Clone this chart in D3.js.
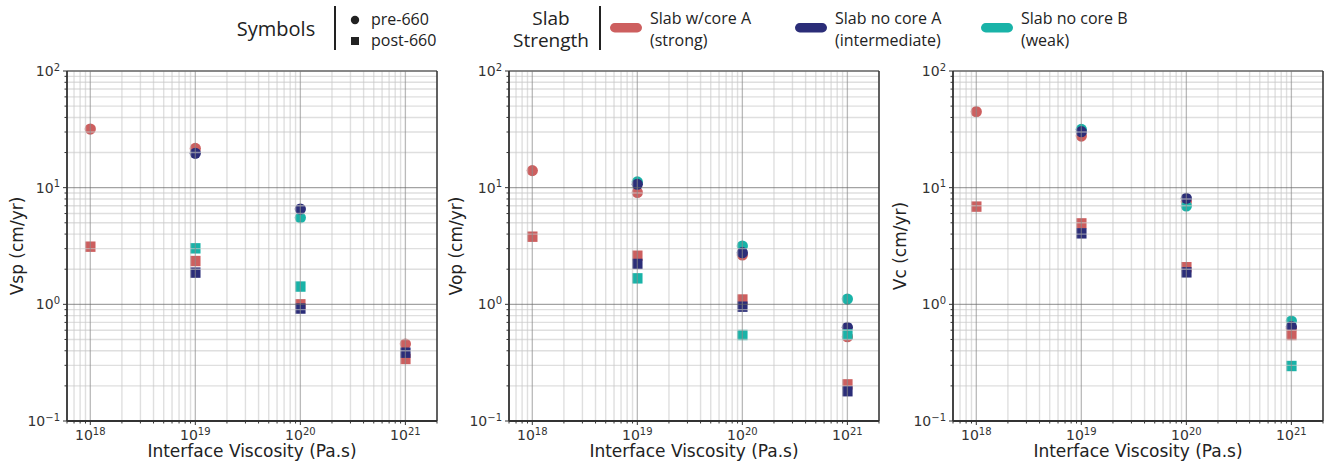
<!DOCTYPE html>
<html>
<head>
<meta charset="utf-8">
<script src="https://cdn.jsdelivr.net/npm/d3@7"></script>
<style>
  body { margin: 0; background: #fff; }
  svg { display: block; }
</style>
</head>
<body>
<svg id="chart" width="1330" height="462"></svg>
<script>
// viscosidad de interfaz (Pa.s) de cada corrida
const viscosity = [1e18, 1e19, 1e20, 1e21];

// filas: w/core A (strong), no core A (intermediate), no core B (weak); null = no visible
const vspPre  = [[31.8, 21.7, null, 0.457], [null, 19.7, 6.56, null], [null, null, 5.53, null]];
const vspPost = [[3.12, 2.35, 1.00, 0.34], [null, 1.87, 0.92, 0.385], [null, 3.02, 1.42, null]];
const vopPre  = [[14.0, 9.1, 2.65, 0.528], [null, 10.7, 2.77, 0.635], [null, 11.2, 3.16, 1.11]];
const vopPost = [[3.80, 2.61, 1.10, 0.206], [null, 2.22, 0.955, 0.18], [null, 1.67, 0.546, 0.553]];
const vcPre   = [[44.8, 27.7, 7.58, 0.62], [null, 30.2, 8.1, 0.644], [null, 31.6, 6.97, 0.72]];
const vcPost  = [[6.88, 4.94, 2.08, 0.546], [null, 4.06, 1.88, null], [null, null, null, 0.296]];

const modelNames = ['Slab w/core A', 'Slab no core A', 'Slab no core B'];
const modelSub = ['(strong)', '(intermediate)', '(weak)'];
const modelColors = ['#cd5f5f', '#2b2d78', '#19b3a8'];
const yLabels = ['Vsp (cm/yr)', 'Vop (cm/yr)', 'Vc (cm/yr)'];
const xTickExp = [18, 19, 20, 21];
const yTickExp = [-1, 0, 1, 2];

const panels = [
  { label: yLabels[0], pre: vspPre, post: vspPost },
  { label: yLabels[1], pre: vopPre, post: vopPost },
  { label: yLabels[2], pre: vcPre, post: vcPost },
];

const svg = d3.select('#chart');
const TICK_FONT = 'DejaVu Sans, sans-serif';
const LEG_FONT = '"Open Sans", Lato, sans-serif';
const PW = 370, PH = 350, TOP = 71;
const lefts = [67, 509, 953];

function minorVals(lo, hi) {
  const out = [];
  for (let e = Math.floor(Math.log10(lo)); e <= Math.ceil(Math.log10(hi)); e++) {
    for (let k = 2; k <= 9; k++) { const v = k * Math.pow(10, e); if (v >= lo && v <= hi) out.push(v); }
  }
  return out;
}

function powLabel(sel, exp) {
  sel.text('10');
  sel.append('tspan').attr('dy', '-0.55em').style('font-size', '10px')
    .text(exp < 0 ? '\u2212' + Math.abs(exp) : exp);
}

panels.forEach((p, pi) => {
  const g = svg.append('g').attr('transform', `translate(${lefts[pi]},${TOP})`);
  const x = d3.scaleLog().domain([6e17, 2e21]).range([0, PW]);
  const y = d3.scaleLog().domain([0.1, 100]).range([PH, 0]);

  // marcadores: primero círculos (pre-660), luego cuadrados (post-660)
  const circOrder = [0, 2, 1], sqOrder = [2, 0, 1];
  circOrder.forEach(m => {
    p.pre[m].forEach((v, i) => {
      if (v == null) return;
      g.append('circle').attr('cx', x(viscosity[i])).attr('cy', y(v)).attr('r', 5.6)
        .attr('fill', modelColors[m]);
    });
  });
  sqOrder.forEach(m => {
    p.post[m].forEach((v, i) => {
      if (v == null) return;
      g.append('rect').attr('x', x(viscosity[i]) - 5.2).attr('y', y(v) - 5.2)
        .attr('width', 10.4).attr('height', 10.4).attr('fill', modelColors[m]);
    });
  });

  // rejilla encima de los puntos (semitransparente, como en el original)
  const grid = g.append('g').attr('stroke-opacity', 0.6);
  minorVals(6e17, 2e21).forEach(v => grid.append('line')
    .attr('x1', x(v)).attr('x2', x(v)).attr('y1', 0).attr('y2', PH)
    .attr('stroke', '#cacaca').attr('stroke-width', 1.4));
  minorVals(0.1, 100).forEach(v => grid.append('line')
    .attr('y1', y(v)).attr('y2', y(v)).attr('x1', 0).attr('x2', PW)
    .attr('stroke', '#cacaca').attr('stroke-width', 1.4));
  xTickExp.forEach(e => grid.append('line')
    .attr('x1', x(10 ** e)).attr('x2', x(10 ** e)).attr('y1', 0).attr('y2', PH)
    .attr('stroke', '#8c8c8c').attr('stroke-width', 1.3));
  yTickExp.forEach(e => grid.append('line')
    .attr('y1', y(10 ** e)).attr('y2', y(10 ** e)).attr('x1', 0).attr('x2', PW)
    .attr('stroke', '#666').attr('stroke-width', 1.3));

  // marco
  g.append('line').attr('x1', 0).attr('x2', PW).attr('y1', 0).attr('y2', 0).attr('stroke', '#777').attr('stroke-width', 1.3);
  g.append('line').attr('x1', PW).attr('x2', PW).attr('y1', 0).attr('y2', PH).attr('stroke', '#333').attr('stroke-width', 1.5);
  g.append('line').attr('x1', 0).attr('x2', 0).attr('y1', 0).attr('y2', PH).attr('stroke', '#333').attr('stroke-width', 1.8);
  g.append('line').attr('x1', 0).attr('x2', PW).attr('y1', PH).attr('y2', PH).attr('stroke', '#333').attr('stroke-width', 1.8);

  // marcas de los ejes
  minorVals(6e17, 2e21).forEach(v => g.append('line').attr('x1', x(v)).attr('x2', x(v))
    .attr('y1', PH).attr('y2', PH + 2.5).attr('stroke', '#333').attr('stroke-width', 1));
  minorVals(0.1, 100).forEach(v => g.append('line').attr('y1', y(v)).attr('y2', y(v))
    .attr('x1', 0).attr('x2', -2.5).attr('stroke', '#333').attr('stroke-width', 1));
  xTickExp.forEach(e => {
    g.append('line').attr('x1', x(10 ** e)).attr('x2', x(10 ** e)).attr('y1', PH).attr('y2', PH + 4)
      .attr('stroke', '#333').attr('stroke-width', 1);
    g.append('text').attr('x', x(10 ** e)).attr('y', PH + 19).attr('text-anchor', 'middle')
      .attr('font-family', TICK_FONT).style('font-size', '14px').attr('fill', '#333')
      .call(powLabel, e);
  });
  yTickExp.forEach(e => {
    g.append('line').attr('y1', y(10 ** e)).attr('y2', y(10 ** e)).attr('x1', 0).attr('x2', -4)
      .attr('stroke', '#333').attr('stroke-width', 1);
    g.append('text').attr('x', -7).attr('y', y(10 ** e) + 5).attr('text-anchor', 'end')
      .attr('font-family', TICK_FONT).style('font-size', '14px').attr('fill', '#333')
      .call(powLabel, e);
  });

  g.append('text').attr('x', PW / 2).attr('y', PH + 36).attr('text-anchor', 'middle')
    .attr('font-family', TICK_FONT).style('font-size', '17px').attr('fill', '#222')
    .text('Interface Viscosity (Pa.s)');
  g.append('text').attr('transform', `translate(${pi === 0 ? -44 : -47},${PH / 2}) rotate(-90)`)
    .attr('text-anchor', 'middle').attr('font-family', TICK_FONT).style('font-size', '17px')
    .attr('fill', '#222').text(p.label);
});

// leyenda superior
const leg = svg.append('g').attr('font-family', LEG_FONT).attr('fill', '#222');
leg.append('text').attr('x', 276).attr('y', 36).attr('text-anchor', 'middle').style('font-size', '20px').text('Symbols');
leg.append('line').attr('x1', 335).attr('x2', 335).attr('y1', 6).attr('y2', 50).attr('stroke', '#222').attr('stroke-width', 2);
leg.append('circle').attr('cx', 355).attr('cy', 20).attr('r', 4.2).attr('fill', '#222');
leg.append('rect').attr('x', 351).attr('y', 37).attr('width', 8).attr('height', 8).attr('fill', '#222');
leg.append('text').attr('x', 371).attr('y', 25).style('font-size', '16px').text('pre-660');
leg.append('text').attr('x', 371).attr('y', 46).style('font-size', '16px').text('post-660');

// título de dos líneas en un solo texto
const slabT = leg.append('text').attr('text-anchor', 'middle').style('font-size', '19px');
slabT.append('tspan').attr('x', 551).attr('y', 25).text('Slab');
slabT.append('tspan').attr('x', 551).attr('y', 47).text('Strength');
leg.append('line').attr('x1', 600).attr('x2', 600).attr('y1', 6).attr('y2', 50).attr('stroke', '#222').attr('stroke-width', 2);

const legX = [610, 795, 981];
modelNames.forEach((nm, i) => {
  leg.append('rect').attr('x', legX[i]).attr('y', 23).attr('width', 32).attr('height', 9.5)
    .attr('rx', 4.75).attr('fill', modelColors[i]);
  leg.append('text').attr('x', legX[i] + 40).attr('y', 24).style('font-size', '16px').text(nm);
  leg.append('text').attr('x', legX[i] + 40).attr('y', 46).style('font-size', '16px').text(modelSub[i]);
});
</script>
</body>
</html>
